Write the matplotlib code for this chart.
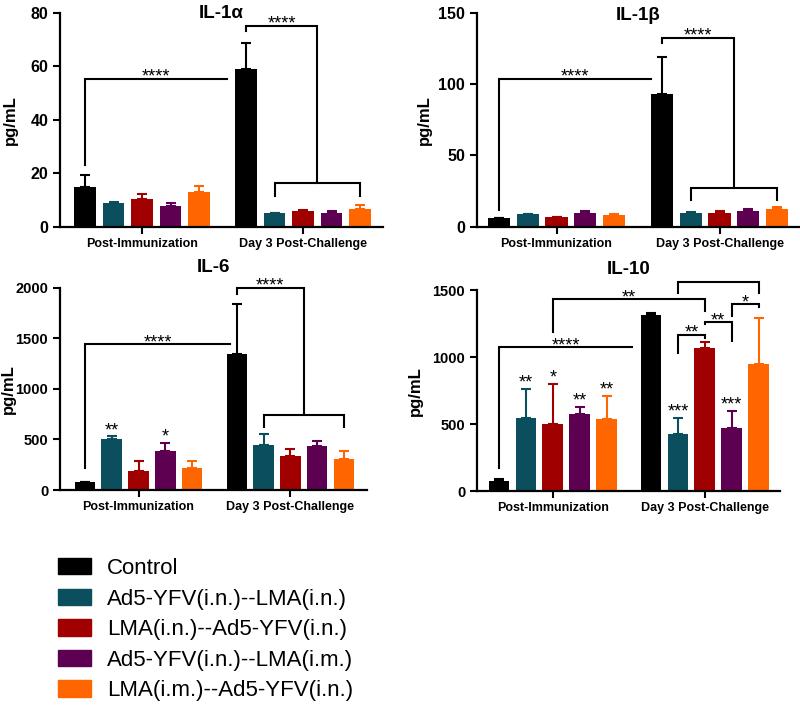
import numpy as np
import matplotlib.pyplot as plt
from matplotlib.patches import Patch

plt.rcParams['font.family'] = ['Liberation Sans', 'DejaVu Sans']

groups = ['Control', 'Ad5-YFV(i.n.)--LMA(i.n.)', 'LMA(i.n.)--Ad5-YFV(i.n.)',
          'Ad5-YFV(i.n.)--LMA(i.m.)', 'LMA(i.m.)--Ad5-YFV(i.n.)']
colors = ['#000000', '#0b4f5f', '#a00000', '#5e0052', '#ff6600']
timepoints = ['Post-Immunization', 'Day 3 Post-Challenge']

# means: 5 groups post-immunization, then 5 groups day 3 post-challenge
il1a_mean = [14.8, 8.9, 10.4, 7.6, 12.9, 58.9, 5.0, 5.8, 5.3, 6.6]
il1a_err = [4.6, 0.5, 1.9, 1.4, 2.4, 9.8, 0.3, 0.5, 0.7, 1.5]
il1b_mean = [5.9, 8.9, 6.8, 9.4, 8.2, 93.2, 9.4, 9.4, 11.0, 12.4]
il1b_err = [0.3, 0.3, 0.3, 1.6, 0.4, 25.5, 0.6, 1.8, 1.4, 1.6]
il6_mean = [75, 500, 188, 388, 220, 1344, 445, 336, 435, 303]
il6_err = [5, 30, 102, 79, 70, 494, 108, 72, 49, 79]
il10_mean = [77, 544, 499, 574, 539, 1314, 427, 1066, 474, 948]
il10_err = [12, 221, 301, 57, 171, 17, 122, 44, 124, 341]

il6_stars = ['', '**', '', '*', '', '', '', '', '', '']
il10_stars = ['', '**', '*', '**', '**', '', '***', '', '***', '']

W, H = 800, 705
fig = plt.figure(figsize=(W / 100, H / 100), dpi=100)


def make_axes(left, right, top, bottom):
    return fig.add_axes([left / W, 1 - bottom / H, (right - left) / W, (bottom - top) / H])


def pos(i, off):
    return i if i < 5 else off + (i - 5)


def bracket(ax, x1, x2, top, y1, y2, label=''):
    ax.plot([x1, x1, x2, x2], [y1, top, top, y2], color='black', lw=1.5,
            clip_on=False, solid_joinstyle='miter', zorder=5)
    if label:
        ax.annotate(label, ((x1 + x2) / 2, top), xytext=(0, -2), textcoords='offset points',
                    ha='center', va='baseline', fontsize=13)


def panel(rect, c0, step, off, mean, err, title, ymax, yticks, title_y, ylab_x,
          tick_fs, stars=None):
    ax = make_axes(*rect)
    x = [pos(i, off) for i in range(10)]
    for i in range(10):
        c = colors[i % 5]
        ax.bar(x[i], mean[i], width=0.77, color=c, zorder=2)
        ax.errorbar(x[i], mean[i], yerr=[[0], [err[i]]], color=c, lw=1.5,
                    capsize=3.5, capthick=1.5, zorder=1)
        if stars and stars[i]:
            ax.annotate(stars[i], (x[i], mean[i] + err[i]), xytext=(0, 1),
                        textcoords='offset points', ha='center', va='baseline', fontsize=13)
    ax.set_xlim((rect[0] - c0) / step, (rect[1] - c0) / step)
    ax.set_ylim(0, ymax)
    ax.set_yticks(yticks)
    ax.set_xticks([2, off + 2])
    ax.set_xticklabels(timepoints, fontsize=9, fontweight='bold')
    ax.tick_params(axis='y', labelsize=tick_fs, width=1.5, length=5)
    ax.tick_params(axis='x', width=1.5, length=5, pad=3)
    for lab in ax.get_yticklabels():
        lab.set_fontweight('bold')
    for s in ['top', 'right']:
        ax.spines[s].set_visible(False)
    for s in ['left', 'bottom']:
        ax.spines[s].set_linewidth(1.6)
    ax.set_ylabel('pg/mL', fontsize=12, fontweight='bold')
    ax.yaxis.set_label_coords(ylab_x, 0.5)
    ax.text(0.5, title_y, title, transform=ax.transAxes, ha='center', va='center',
            fontsize=13.5, fontweight='bold')
    return ax, x


# IL-1 alpha
ax, x = panel((60, 383, 12.7, 226.7), 85, 28.5, 5.65, il1a_mean, il1a_err, 'IL-1α',
              80, [0, 20, 40, 60, 80], 0.995, -0.13, 11.5)
bracket(ax, x[0], 4.98, 55.3, 23, 55.3, '****')
mid = (x[6] + x[9]) / 2
bracket(ax, x[5], mid, 75, 73, 16.25, '****')
bracket(ax, x[6], x[9], 16.25, 11.6, 11.6)

# IL-1 beta
ax, x = panel((477, 799, 12.7, 226.7), 499, 28.75, 5.67, il1b_mean, il1b_err, 'IL-1β',
              150, [0, 50, 100, 150], 0.985, -0.14, 11.5)
bracket(ax, x[0], 5.3, 103.5, 11.7, 103.5, '****')
mid = (x[6] + x[9]) / 2
bracket(ax, x[5], mid, 132.4, 129, 26.9, '****')
bracket(ax, x[6], x[9], 26.9, 18.7, 18.7)

# IL-6
ax, x = panel((60, 367, 287.7, 490), 85, 26.75, 5.68, il6_mean, il6_err, 'IL-6',
              2000, [0, 500, 1000, 1500, 2000], 1.1, -0.145, 10.5, il6_stars)
bracket(ax, x[0], 5.42, 1440, 220, 1440, '****')
mid = (x[6] + x[9]) / 2
bracket(ax, x[5], mid, 2000, 1933, 740, '****')
bracket(ax, x[6], x[9], 740, 625, 625)

# IL-10
ax, x = panel((477, 780, 290, 491.3), 499, 26.9, 5.65, il10_mean, il10_err, 'IL-10',
              1500, [0, 500, 1000, 1500], 1.1, -0.18, 10.5, il10_stars)
bracket(ax, x[0], 4.94, 1073, 176, 1073, '****')
bracket(ax, x[2], x[7], 1430, 1189, 1345, '**')
bracket(ax, x[6], x[9], 1557, 1475, 1475, '*')
bracket(ax, x[6], x[7], 1164, 1028, 1140, '**')
bracket(ax, x[7], x[8], 1259, 1245, 1122, '**')
bracket(ax, x[8], x[9], 1393, 1308, 1375, '*')

handles = [Patch(color=c) for c in colors]
fig.legend(handles, groups, loc='upper left', bbox_to_anchor=(58 / W, 1 - 558 / H),
           frameon=False, fontsize=16, handlelength=1.5, handleheight=0.75,
           handletextpad=0.7, labelspacing=0.43, borderpad=0, borderaxespad=0)

fig.savefig('out.png', dpi=100)
